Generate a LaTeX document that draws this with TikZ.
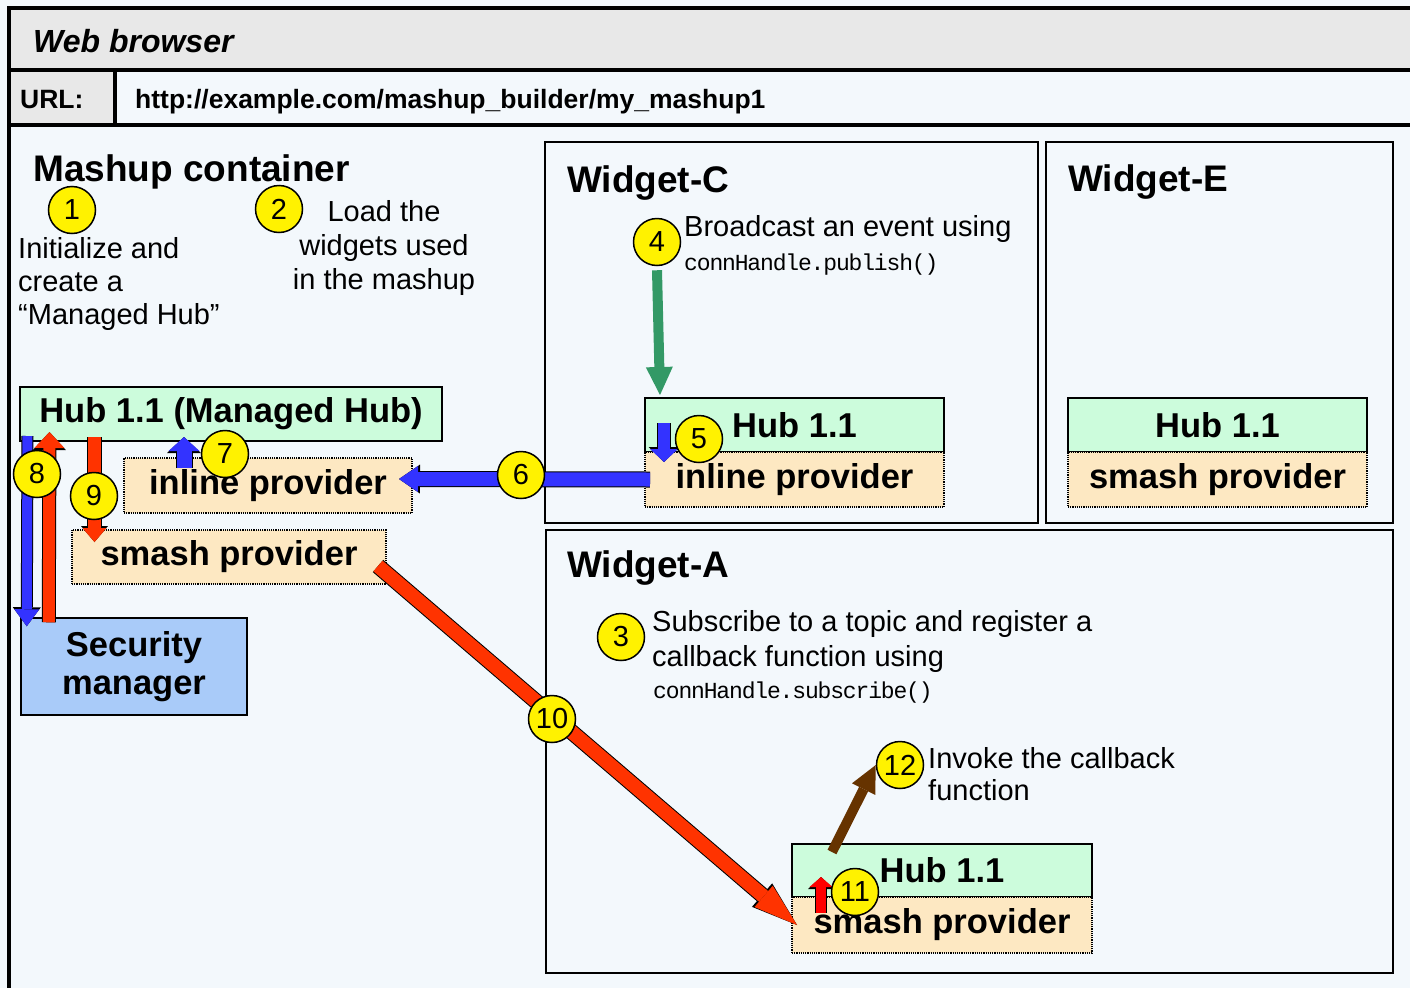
\documentclass[tikz,border=0pt]{standalone}
\usepackage{fontspec}
\setmainfont{Liberation Sans}
\newfontfamily\codefont[LetterSpace=-5]{Liberation Mono}
\usetikzlibrary{positioning,calc,arrows.meta}

% block arrow with a thin black rim: colour, shaft, head width, head length, from, to
\newcommand{\fatarrow}[6]{%
  \pgfmathsetmacro{\rimw}{#2+2}%
  \pgfmathsetmacro{\rimW}{#3+3}%
  \pgfmathsetmacro{\rimL}{#4+2}%
  \draw[black,line width=\rimw pt,-{Triangle[width=\rimW pt,length=\rimL pt,line width=0pt]}] #5 -- #6;
  \draw[#1,line width=#2pt,-{Triangle[width=#3pt,length=#4pt,line width=0pt]}] #5 -- #6;
}

\begin{document}
\begin{tikzpicture}[x=1pt,y=-1pt,
  hubbox/.style={draw,line width=1.5pt,fill=hubgreen,inner sep=0pt,outer sep=0pt,font=\bfseries\fontsize{34.5}{40}\selectfont},
  provbox/.style={draw,densely dotted,line width=1.2pt,fill=provbeige,inner sep=0pt,outer sep=0pt,font=\bfseries\fontsize{34.5}{40}\selectfont},
  numnode/.style={circle,draw,line width=1.5pt,fill=yellow,minimum size=47pt,inner sep=0pt,font=\fontsize{29}{34}\selectfont},
  framebox/.style={draw,line width=2.5pt,inner sep=0pt,outer sep=0pt,anchor=north west},
  title/.style={anchor=base west,inner sep=0pt,font=\bfseries\fontsize{37}{42}\selectfont},
  note/.style={inner sep=0pt,font=\fontsize{29}{33}\selectfont},
  code/.style={anchor=base west,inner sep=0pt,font=\codefont\fontsize{23}{27}\selectfont}]
\definecolor{pagebg}{HTML}{F3F8FC}
\definecolor{bargrey}{HTML}{E8E8E8}
\definecolor{hubgreen}{HTML}{CCFCDC}
\definecolor{provbeige}{HTML}{FDE8C2}
\definecolor{secblue}{HTML}{A9CBF9}
\definecolor{msgblue}{HTML}{3333FF}
\definecolor{msgred}{HTML}{FF3300}
\definecolor{pubgreen}{HTML}{339966}
\definecolor{cbbrown}{HTML}{663300}
\useasboundingbox (0,0) rectangle (1410,988);
\fill[pagebg] (0,0) rectangle (1410,988);

% browser window
\fill[bargrey] (9,8) rectangle (1410,70);
\fill[bargrey] (9,70) rectangle (115,125);
\draw[line width=3.5pt] (1410,8) -- (9,8) -- (9,988);
\draw[line width=3.5pt] (9,70) -- (1410,70) (9,125) -- (1410,125) (115,70) -- (115,125);
\node[anchor=base west,inner sep=0pt,font=\bfseries\itshape\fontsize{32}{36}\selectfont] (wb) at (33,52) {Web browser};
\node[anchor=base west,inner sep=0pt,font=\bfseries\fontsize{26.5}{30}\selectfont] (url) at (20,108) {URL:};
\node[anchor=base west,inner sep=0pt,font=\bfseries\fontsize{26.5}{30}\selectfont] (addr) at (135,108) {http://example.com/mashup\_builder/my\_mashup1};

% mashup container
\node[title] (mc) at (33,181) {Mashup container};
\node[note,align=left,anchor=north west] (t1) at (18,237) {Initialize and\\create a\\“Managed Hub”};
\node[note,align=center,anchor=north,font=\fontsize{29}{34}\selectfont] (t2) at (384,200) {Load the\\widgets used\\in the mashup};
\node[hubbox,minimum width=422pt,minimum height=54pt] (mhub) at (231,414) {Hub 1.1 (Managed Hub)};
\node[provbox,minimum width=288pt,minimum height=55pt] (minl) at (268,485.5) {inline provider};
\node[provbox,minimum width=314pt,minimum height=54pt] (msmash) at (229,557) {smash provider};
\node[draw,line width=1.5pt,fill=secblue,align=center,minimum width=226pt,minimum height=97pt,inner sep=0pt,
  font=\bfseries\fontsize{34.5}{38}\selectfont] (sec) at (134,666.5) {Security\\manager};

% Widget-C
\node[framebox,minimum width=493pt,minimum height=381pt] (wc) at (545,142) {};
\node[title] (wct) at (567,192) {Widget-C};
\node[note,anchor=base west] (t4) at (684,236) {Broadcast an event using};
\node[code] (t4c) at (684,270) {connHandle.publish()};
\node[hubbox,anchor=north west,minimum width=299pt,minimum height=54pt] (hubc) at (645,398) {Hub 1.1};
\node[provbox,minimum width=299pt,minimum height=55pt,below=0pt of hubc] (inlc) {inline provider};

% Widget-E
\node[framebox,minimum width=347pt,minimum height=381pt] (we) at (1046,142) {};
\node[title] (wet) at (1068,191) {Widget-E};
\node[hubbox,anchor=north west,minimum width=299pt,minimum height=54pt] (hube) at (1068,398) {Hub 1.1};
\node[provbox,minimum width=299pt,minimum height=55pt,below=0pt of hube] (smashe) {smash provider};

% Widget-A
\node[framebox,minimum width=847pt,minimum height=443pt] (wa) at (546,530) {};
\node[title] (wat) at (567,577) {Widget-A};
\node[note,align=left,anchor=north west,font=\fontsize{29}{35}\selectfont] (t3) at (652,610) {Subscribe to a topic and register a\\callback function using};
\node[code] (t3c) at (653,698) {connHandle.subscribe()};
\node[note,align=left,anchor=north west,font=\fontsize{29}{32}\selectfont] (t12) at (928,747) {Invoke the callback\\function};
\node[hubbox,anchor=north west,minimum width=300pt,minimum height=53pt] (huba) at (792,844) {Hub 1.1};
\node[provbox,minimum width=300pt,minimum height=56pt,below=0pt of huba] (smasha) {smash provider};

% steps
\node[numnode] (c1) at (72,210) {1};
\node[numnode] (c2) at (279,209) {2};
\node[numnode] (c4) at (657,242) {4};
\node[numnode] (c3) at (621,637) {3};
\draw[pubgreen,line width=10pt,-{Triangle[width=27pt,length=28pt,line width=0pt]}] ($(c4.south)+(0,4)$) -- ($(hubc.north west)+(15,-3)$);
\fatarrow{msgblue}{14}{26}{19}{($(inlc.west)+(5,0)$)}{($(minl.east)+(-13,-6.5)$)}
\fatarrow{msgblue}{12}{28}{13}{($(hubc.north west)+(19,25)$)}{($(inlc.north west)+(19,10)$)}
\fatarrow{msgblue}{15}{31}{14}{($(minl.north west)+(60,10)$)}{($(mhub.south west)+(164,-4)$)}
\fatarrow{msgblue}{10}{25}{17}{($(mhub.south west)+(7.5,-5)$)}{($(sec.north west)+(6.5,9)$)}
\fatarrow{msgred}{12}{30}{16}{($(sec.north west)+(28.5,5)$)}{($(mhub.south west)+(29.5,-9)$)}
\fatarrow{msgred}{13}{24}{14}{($(mhub.south west)+(74.5,-4)$)}{($(msmash.north west)+(22.5,12)$)}
\fatarrow{msgred}{14}{28}{44}{($(msmash.east)+(-8,9)$)}{($(smasha.west)+(5,0)$)}
\fatarrow{red}{10}{23}{10}{($(smasha.north west)+(29,16)$)}{($(huba.south west)+(29,-20)$)}
\node[numnode] (c12) at (900,765) {12};
\draw[cbbrown,line width=10pt,-{Triangle[width=26pt,length=27pt,line width=0pt]}] ($(huba.north west)+(40,8)$) -- (c12.west);
\node[numnode] (c5) at (699,439) {5};
\node[numnode] (c6) at (521,475) {6};
\node[numnode] (c7) at (225,454) {7};
\node[numnode] (c8) at (37,474) {8};
\node[numnode] (c9) at (94,496) {9};
\node[numnode] (c10) at (552,719) {10};
\node[numnode] (c11) at (855,892) {11};
\end{tikzpicture}
\end{document}
